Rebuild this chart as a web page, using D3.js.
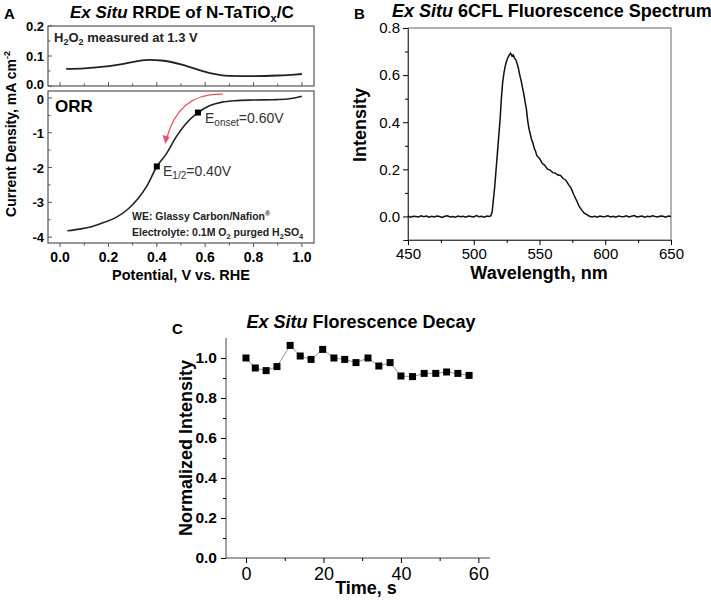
<!DOCTYPE html>
<html>
<head>
<meta charset="utf-8">
<script src="https://cdn.jsdelivr.net/npm/d3@7"></script>
<style>
  html, body { margin: 0; padding: 0; background: #fff; }
  svg { display: block; font-family: "Liberation Sans", Arial, sans-serif; }
</style>
</head>
<body>
<svg id="chart" width="711" height="600"></svg>
<script>
// ---- Panel A: RRDE data ----
const ringPotential = [0.025, 0.1, 0.15, 0.25, 0.32, 0.37, 0.42, 0.5, 0.56, 0.62, 0.7, 0.8, 0.9, 0.97, 1.0];
const ringCurrent = [0.057, 0.059, 0.062, 0.072, 0.083, 0.087, 0.085, 0.072, 0.057, 0.043, 0.034, 0.033, 0.035, 0.038, 0.04];

const diskPotential = [0.03, 0.08, 0.13, 0.18, 0.23, 0.28, 0.32, 0.36, 0.4, 0.44, 0.48, 0.52, 0.57, 0.62, 0.67, 0.72, 0.8, 0.88, 0.94, 0.97, 1.0];
const diskCurrent = [-3.82, -3.77, -3.7, -3.58, -3.44, -3.2, -2.91, -2.52, -1.97, -1.6, -1.12, -0.74, -0.42, -0.22, -0.12, -0.08, -0.06, -0.05, -0.03, 0.0, 0.05];

const markerPotential = [0.4, 0.57];
const markerCurrent = [-1.97, -0.42];

const aTopTicks = [0.0, 0.1, 0.2];
const aBotTicks = [0, -1, -2, -3, -4];
const aXTicks = [0, 0.2, 0.4, 0.6, 0.8, 1.0];

// ---- Panel B: fluorescence spectrum ----
const wavelength = [450, 452, 454, 456, 458, 460, 462, 464, 466, 468, 470, 472, 474, 476, 478, 480, 482, 484, 486, 488, 490, 492, 494, 496, 498, 500, 502, 504, 506, 508, 510, 512,
  513, 514, 516, 518, 520, 521, 522, 523, 524, 525, 526, 527, 528, 529, 530, 531, 532, 533, 534, 535, 536, 537, 538, 539, 540, 541, 542, 543, 544, 545, 546, 547, 548,
  550, 552, 554, 556, 558, 560, 562, 564, 566, 568, 570, 572, 574, 576, 578, 580, 582, 584, 586, 588, 590,
  592, 594, 596, 598, 600, 602, 604, 606, 608, 610, 612, 614, 616, 618, 620, 622, 624, 626, 628, 630, 632, 634, 636, 638, 640, 642, 644, 646, 648, 650];
const intensity = [0.002, -0.003, 0.001, 0.0, -0.002, 0.003, -0.001, 0.002, -0.003, 0.001, -0.002, 0.002, 0.0, -0.004, 0.001, 0.003, -0.002, 0.0, -0.003, 0.002, -0.001, 0.001, -0.003, 0.002, 0.0, -0.002, 0.004, -0.001, 0.001, -0.003, 0.002, 0.0,
  0.003, 0.02, 0.13, 0.27, 0.41, 0.5, 0.57, 0.61, 0.64, 0.66, 0.675, 0.685, 0.693, 0.682, 0.686, 0.672, 0.665, 0.648, 0.628, 0.6, 0.578, 0.548, 0.522, 0.487, 0.458, 0.408, 0.372, 0.35, 0.326, 0.312, 0.289, 0.277, 0.258,
  0.246, 0.226, 0.217, 0.201, 0.197, 0.186, 0.184, 0.176, 0.174, 0.161, 0.154, 0.136, 0.12, 0.093, 0.07, 0.045, 0.028, 0.014, 0.008, 0.001, -0.002,
  0.001, -0.003, 0.002, -0.001, 0.0, 0.003, -0.002, 0.001, -0.003, 0.002, 0.0, -0.001, 0.003, -0.002, 0.001, 0.004, -0.002, 0.0, 0.002, -0.003, 0.001, -0.001, 0.003, 0.0, -0.002, 0.002, 0.001, -0.003, 0.002, 0.0];

const bXTicks = [450, 500, 550, 600, 650];
const bYTicks = [0.0, 0.2, 0.4, 0.6, 0.8];

// ---- Panel C: fluorescence decay ----
const decayTime = [0, 2.4, 5.2, 8, 11.4, 14, 16.8, 19.8, 22.7, 25.5, 28.4, 31.5, 34.3, 37.2, 40, 43, 46, 49, 51.8, 54.7, 57.6];
const decayValue = [1.0, 0.95, 0.937, 0.957, 1.063, 1.01, 0.993, 1.043, 1.0, 0.993, 0.977, 1.0, 0.96, 0.977, 0.91, 0.907, 0.923, 0.923, 0.93, 0.923, 0.913];

const cXTicks = [0, 20, 40, 60];
const cYTicks = [0.0, 0.2, 0.4, 0.6, 0.8, 1.0];

const svg = d3.select("#chart");
svg.append("rect").attr("width", 711).attr("height", 600).attr("fill", "#fff");

const FRAME = "#555";

// ============ Panel A ============
const gA = svg.append("g");
const xA = d3.scaleLinear().domain([-0.05, 1.05]).range([48, 314]);
const yTop = d3.scaleLinear().domain([0, 0.2]).range([86, 26]);
const yBot = d3.scaleLinear().domain([-4.17, 0.2]).range([243, 91]);

// frames
[[26, 86], [91, 243]].forEach(([y0, y1]) => {
  gA.append("rect")
    .attr("x", 48).attr("y", y0)
    .attr("width", 314 - 48).attr("height", y1 - y0)
    .attr("fill", "none").attr("stroke", FRAME).attr("stroke-width", 1.2);
});

// x ticks (inward on top box, outward on lower box)
const aXMinor = d3.range(0, 1.001, 0.1);
aXMinor.forEach((v, i) => {
  const major = i % 2 === 0;
  gA.append("line")
    .attr("x1", xA(v)).attr("x2", xA(v))
    .attr("y1", 86).attr("y2", 86 - (major ? 4 : 2.5))
    .attr("stroke", FRAME);
  gA.append("line")
    .attr("x1", xA(v)).attr("x2", xA(v))
    .attr("y1", 243).attr("y2", 243 + (major ? 4 : 2.5))
    .attr("stroke", FRAME);
});
gA.selectAll(".axl").data(aXTicks).join("text")
  .attr("x", (d) => xA(d)).attr("y", 262)
  .attr("text-anchor", "middle").attr("font-size", 14).attr("font-weight", "bold")
  .text((d) => d.toFixed(1));

// y ticks top
aTopTicks.forEach((v) => {
  gA.append("line").attr("x1", 48).attr("x2", 52).attr("y1", yTop(v)).attr("y2", yTop(v)).attr("stroke", FRAME);
  gA.append("text").attr("x", 44).attr("y", yTop(v) + (v === 0 ? 3 : 5))
    .attr("text-anchor", "end").attr("font-size", 13).attr("font-weight", "bold")
    .text(v.toFixed(1));
});
[0.05, 0.15].forEach((v) => {
  gA.append("line").attr("x1", 48).attr("x2", 50.5).attr("y1", yTop(v)).attr("y2", yTop(v)).attr("stroke", FRAME);
});
// y ticks bottom
aBotTicks.forEach((v) => {
  gA.append("line").attr("x1", 48).attr("x2", 52).attr("y1", yBot(v)).attr("y2", yBot(v)).attr("stroke", FRAME);
  gA.append("text").attr("x", 44).attr("y", yBot(v) + (v === 0 ? 6 : 5))
    .attr("text-anchor", "end").attr("font-size", 13).attr("font-weight", "bold")
    .text(v === 0 ? "0" : "-" + Math.abs(v));
});
[-0.5, -1.5, -2.5, -3.5].forEach((v) => {
  gA.append("line").attr("x1", 48).attr("x2", 50.5).attr("y1", yBot(v)).attr("y2", yBot(v)).attr("stroke", FRAME);
});

// curves
const ringLine = d3.line().curve(d3.curveMonotoneX)
  .x((d, i) => xA(ringPotential[i])).y((d) => yTop(d));
gA.append("path").datum(ringCurrent).attr("d", ringLine)
  .attr("fill", "none").attr("stroke", "#222").attr("stroke-width", 1.8);

const diskLine = d3.line().curve(d3.curveMonotoneX)
  .x((d, i) => xA(diskPotential[i])).y((d) => yBot(d));
gA.append("path").datum(diskCurrent).attr("d", diskLine)
  .attr("fill", "none").attr("stroke", "#222").attr("stroke-width", 1.6);

gA.selectAll(".mk").data(markerCurrent).join("rect")
  .attr("x", (d, i) => xA(markerPotential[i]) - 3)
  .attr("y", (d) => yBot(d) - 3)
  .attr("width", 6).attr("height", 6).attr("fill", "#000");

// red arrow (scan direction)
const arrowStart = [0.673, 0.11];
const arrowCtrl = [0.49, 0.16];
const arrowEnd = [0.44, -1.18];
const ap = d3.path();
ap.moveTo(xA(arrowStart[0]), yBot(arrowStart[1]));
ap.quadraticCurveTo(xA(arrowCtrl[0]), yBot(arrowCtrl[1]), xA(arrowEnd[0]), yBot(arrowEnd[1]));
gA.append("path").attr("d", ap.toString())
  .attr("fill", "none").attr("stroke", "#f05060").attr("stroke-width", 1.3);
const ax = xA(arrowEnd[0]), ay = yBot(arrowEnd[1]);
gA.append("path")
  .attr("d", `M${ax - 1},${ay + 5} L${ax - 4},${ay - 4} L${ax + 3},${ay - 2} Z`)
  .attr("fill", "#f05060");

// annotations
const onset = gA.append("text").attr("x", 205).attr("y", 123).attr("font-size", 14).attr("fill", "#333");
onset.append("tspan").text("E");
onset.append("tspan").attr("font-size", 10).attr("dy", 3).text("onset");
onset.append("tspan").attr("dy", -3).text("=0.60V");

const half = gA.append("text").attr("x", 163).attr("y", 176).attr("font-size", 14).attr("fill", "#333");
half.append("tspan").text("E");
half.append("tspan").attr("font-size", 10).attr("dy", 3).text("1/2");
half.append("tspan").attr("dy", -3).text("=0.40V");

gA.append("text").attr("x", 55).attr("y", 112).attr("font-size", 17).attr("font-weight", "bold").text("ORR");

const h2o2 = gA.append("text").attr("x", 54).attr("y", 42).attr("font-size", 13).attr("font-weight", "bold").attr("fill", "#222");
h2o2.append("tspan").text("H");
h2o2.append("tspan").attr("font-size", 9).attr("dy", 3).text("2");
h2o2.append("tspan").attr("dy", -3).text("O");
h2o2.append("tspan").attr("font-size", 9).attr("dy", 3).text("2");
h2o2.append("tspan").attr("dy", -3).text(" measured at 1.3 V");

const we = gA.append("text").attr("x", 132).attr("y", 220).attr("font-size", 10.5).attr("font-weight", "bold").attr("fill", "#222");
we.append("tspan").text("WE: Glassy Carbon/Nafion");
we.append("tspan").attr("font-size", 7).attr("dy", -4).text("®");

const el = gA.append("text").attr("x", 132).attr("y", 236).attr("font-size", 10.5).attr("font-weight", "bold").attr("fill", "#222");
el.append("tspan").text("Electrolyte: 0.1M O");
el.append("tspan").attr("font-size", 7.5).attr("dy", 2.5).text("2");
el.append("tspan").attr("dy", -2.5).text(" purged H");
el.append("tspan").attr("font-size", 7.5).attr("dy", 2.5).text("2");
el.append("tspan").attr("dy", -2.5).text("SO");
el.append("tspan").attr("font-size", 7.5).attr("dy", 2.5).text("4");

// axis titles
gA.append("text").attr("x", 181).attr("y", 280).attr("text-anchor", "middle")
  .attr("font-size", 14.5).attr("font-weight", "bold").text("Potential, V vs. RHE");

const yTitleA = gA.append("text").attr("transform", "translate(16,134) rotate(-90)")
  .attr("text-anchor", "middle").attr("font-size", 14).attr("font-weight", "bold");
yTitleA.append("tspan").text("Current Density, mA cm");
yTitleA.append("tspan").attr("font-size", 9).attr("dy", -6).text("-2");

const titleA = gA.append("text").attr("x", 70).attr("y", 18).attr("font-size", 17).attr("font-weight", "bold");
titleA.append("tspan").attr("font-style", "italic").text("Ex Situ");
titleA.append("tspan").text(" RRDE of N-TaTiO");
titleA.append("tspan").attr("font-size", 11).attr("dy", 4).text("x");
titleA.append("tspan").attr("dy", -4).text("/C");

gA.append("text").attr("x", 4).attr("y", 19).attr("font-size", 15).attr("font-weight", "bold").text("A");

// ============ Panel B ============
const gB = svg.append("g");
const xB = d3.scaleLinear().domain([450, 650]).range([408, 671]);
const yB = d3.scaleLinear().domain([-0.1, 0.8]).range([240, 28]);

gB.append("rect").attr("x", 408).attr("y", 28).attr("width", 671 - 408).attr("height", 240 - 28)
  .attr("fill", "none").attr("stroke", "#666").attr("stroke-width", 1);

const xAxisB = d3.axisBottom(xB).tickValues(bXTicks).tickSize(5).tickPadding(3).tickFormat(d3.format("d"));
gB.append("g").attr("transform", "translate(0,240)").call(xAxisB)
  .call((g) => g.select(".domain").attr("stroke", "#444"))
  .call((g) => g.selectAll("text").attr("font-size", 15).attr("fill", "#000").attr("font-family", "Liberation Sans, Arial"));
gB.append("g").attr("transform", "translate(0,240)")
  .call(d3.axisBottom(xB).tickValues([475, 525, 575, 625]).tickSize(3).tickFormat(""))
  .call((g) => g.select(".domain").remove());

const yAxisB = d3.axisLeft(yB).tickValues(bYTicks).tickSize(5).tickPadding(3).tickFormat(d3.format(".1f"));
gB.append("g").attr("transform", "translate(408,0)").call(yAxisB)
  .call((g) => g.select(".domain").attr("stroke", "#444"))
  .call((g) => g.selectAll("text").attr("font-size", 15).attr("fill", "#000").attr("font-family", "Liberation Sans, Arial"));
gB.append("g").attr("transform", "translate(408,0)")
  .call(d3.axisLeft(yB).tickValues([-0.1, 0.1, 0.3, 0.5, 0.7]).tickSize(3).tickFormat(""))
  .call((g) => g.select(".domain").remove());

const specLine = d3.line().x((d, i) => xB(wavelength[i])).y((d) => yB(d));
gB.append("path").datum(intensity).attr("d", specLine)
  .attr("fill", "none").attr("stroke", "#111").attr("stroke-width", 1.5);

gB.append("text").attr("x", 539).attr("y", 279).attr("text-anchor", "middle")
  .attr("font-size", 18).attr("font-weight", "bold").text("Wavelength, nm");
gB.append("text").attr("transform", "translate(366,125) rotate(-90)").attr("text-anchor", "middle")
  .attr("font-size", 18).attr("font-weight", "bold").text("Intensity");

const titleB = gB.append("text").attr("x", 392).attr("y", 17).attr("font-size", 18).attr("font-weight", "bold");
titleB.append("tspan").attr("font-style", "italic").text("Ex Situ");
titleB.append("tspan").text(" 6CFL Fluorescence Spectrum");
gB.append("text").attr("x", 354).attr("y", 19).attr("font-size", 15).attr("font-weight", "bold").text("B");

// ============ Panel C ============
const gC = svg.append("g");
const xC = d3.scaleLinear().domain([-5.16, 63]).range([226, 490]);
const yC = d3.scaleLinear().domain([0, 1.1]).range([558, 338]);

const xAxisC = d3.axisBottom(xC).tickValues(cXTicks).tickSize(5).tickPadding(4).tickFormat(d3.format("d"));
gC.append("g").attr("transform", "translate(0,558)").call(xAxisC)
  .call((g) => g.select(".domain").attr("stroke", "#444").attr("d", `M226,0H490`))
  .call((g) => g.selectAll("text").attr("font-size", 18).attr("fill", "#000").attr("font-family", "Liberation Sans, Arial"));
gC.append("g").attr("transform", "translate(0,558)")
  .call(d3.axisBottom(xC).tickValues([10, 30, 50]).tickSize(3).tickFormat(""))
  .call((g) => g.select(".domain").remove());

const yAxisC = d3.axisLeft(yC).tickValues(cYTicks).tickSize(5).tickPadding(4).tickFormat(d3.format(".1f"));
gC.append("g").attr("transform", "translate(226,0)").call(yAxisC)
  .call((g) => g.select(".domain").attr("stroke", "#444").attr("d", `M0,558V338`))
  .call((g) => g.selectAll("text").attr("font-size", 15.5).attr("font-weight", "bold").attr("fill", "#000").attr("font-family", "Liberation Sans, Arial"));
gC.append("g").attr("transform", "translate(226,0)")
  .call(d3.axisLeft(yC).tickValues([0.1, 0.3, 0.5, 0.7, 0.9]).tickSize(3).tickFormat(""))
  .call((g) => g.select(".domain").remove());

const decayLine = d3.line().x((d, i) => xC(decayTime[i])).y((d) => yC(d));
gC.append("path").datum(decayValue).attr("d", decayLine)
  .attr("fill", "none").attr("stroke", "#888").attr("stroke-width", 0.9);
gC.selectAll(".dp").data(decayValue).join("rect")
  .attr("x", (d, i) => xC(decayTime[i]) - 3.5)
  .attr("y", (d) => yC(d) - 3.5)
  .attr("width", 7).attr("height", 7).attr("fill", "#000");

gC.append("text").attr("x", 366).attr("y", 594).attr("text-anchor", "middle")
  .attr("font-size", 18).attr("font-weight", "bold").text("Time, s");
gC.append("text").attr("transform", "translate(192,448) rotate(-90)").attr("text-anchor", "middle")
  .attr("font-size", 18).attr("font-weight", "bold").text("Normalized Intensity");

const titleC = gC.append("text").attr("x", 361).attr("y", 328).attr("text-anchor", "middle")
  .attr("font-size", 18).attr("font-weight", "bold");
titleC.append("tspan").attr("font-style", "italic").text("Ex Situ");
titleC.append("tspan").text(" Florescence Decay");
gC.append("text").attr("x", 172).attr("y", 334).attr("font-size", 15).attr("font-weight", "bold").text("C");
</script>
</body>
</html>
